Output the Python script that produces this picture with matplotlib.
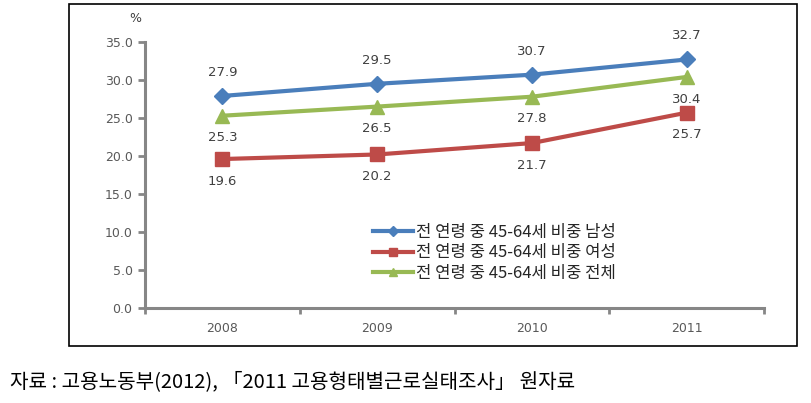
import matplotlib
matplotlib.use("Agg")
import matplotlib.pyplot as plt
from matplotlib.patches import Rectangle

plt.rcParams['font.family'] = ['Noto Sans CJK KR', 'DejaVu Sans']

years = ['2008', '2009', '2010', '2011']
male = [27.9, 29.5, 30.7, 32.7]
female = [19.6, 20.2, 21.7, 25.7]
total = [25.3, 26.5, 27.8, 30.4]
labels = ['전 연령 중 45-64세 비중 남성', '전 연령 중 45-64세 비중 여성', '전 연령 중 45-64세 비중 전체']
yticks = [0, 5, 10, 15, 20, 25, 30, 35]
caption = '자료 : 고용노동부(2012), 「2011 고용형태별근로실태조사」 원자료'

W, H = 811, 403
fig = plt.figure(figsize=(W / 100, H / 100), dpi=100)

# outer frame
fig.patches.append(Rectangle((69 / W, 1 - 346 / H), (797 - 69) / W, (346 - 4) / H,
                             transform=fig.transFigure, fill=False, edgecolor='black', linewidth=1.2))

ax = fig.add_axes([145 / W, 1 - 308 / H, (764 - 145) / W, (308 - 42) / H])
x = list(range(len(years)))
c_blue, c_red, c_green = '#4A7EBB', '#BE4B48', '#98B954'
ax.plot(x, male, color=c_blue, lw=3, marker='D', ms=8, label=labels[0])
ax.plot(x, female, color=c_red, lw=3, marker='s', ms=10, label=labels[1])
ax.plot(x, total, color=c_green, lw=3, marker='^', ms=10, label=labels[2])

ax.set_xlim(-0.5, len(years) - 0.5)
ax.set_ylim(0, 35)
ax.set_yticks(yticks)
ax.set_yticklabels([f'{v:.1f}' for v in yticks], fontsize=9, color='#595959', family=['DejaVu Sans'])
ax.set_xticks(x)
ax.set_xticklabels(years, fontsize=9, color='#595959', family=['DejaVu Sans'])
ax.set_xticks([i - 0.5 for i in range(len(years) + 1)], minor=True)
ax.tick_params(axis='x', which='major', length=0, pad=10)
ax.tick_params(axis='x', which='minor', length=4, color='#868686', width=2)
ax.tick_params(axis='y', length=5, color='#868686', width=2, pad=4)
for s in ['top', 'right']:
    ax.spines[s].set_visible(False)
for s in ['left', 'bottom']:
    ax.spines[s].set_color('#868686')
    ax.spines[s].set_linewidth(2.2)

for i in x:
    ax.annotate(f'{male[i]:.1f}', (i, male[i]), xytext=(0, 17), textcoords='offset points',
                ha='center', va='center', fontsize=9.5, color='#404040', family=['DejaVu Sans'])
    ax.annotate(f'{total[i]:.1f}', (i, total[i]), xytext=(0, -16), textcoords='offset points',
                ha='center', va='center', fontsize=9.5, color='#404040', family=['DejaVu Sans'])
    ax.annotate(f'{female[i]:.1f}', (i, female[i]), xytext=(0, -16), textcoords='offset points',
                ha='center', va='center', fontsize=9.5, color='#404040', family=['DejaVu Sans'])

ax.text(-0.015, 1.09, '%', transform=ax.transAxes, fontsize=9, color='#404040', ha='center', va='center',
        family=['DejaVu Sans'])

leg = ax.legend(loc='upper left', bbox_to_anchor=((366 - 145) / (764 - 145), (308 - 217) / (308 - 42)),
                frameon=False, fontsize=12, handlelength=2.4, handletextpad=0.2, labelspacing=0.22,
                borderaxespad=0, markerscale=0.6)
for t in leg.get_texts():
    t.set_color('#262626')

fig.text(10 / W, 1 - 382 / H, caption, fontsize=14.5, ha='left', va='center', color='black')

fig.savefig('out.png', dpi=100)
